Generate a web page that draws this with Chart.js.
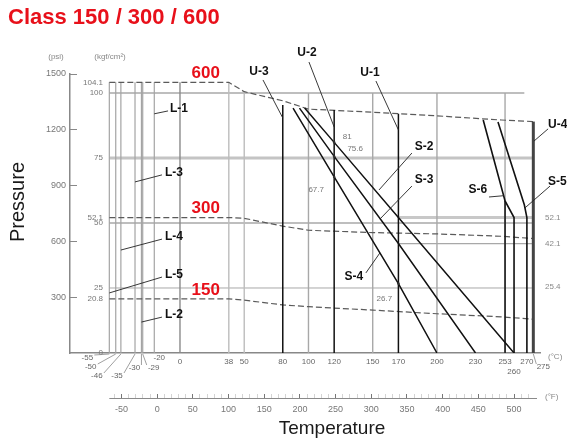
<!DOCTYPE html>
<html><head><meta charset="utf-8">
<script src="https://cdn.jsdelivr.net/npm/chart.js@4.4.1/dist/chart.umd.min.js"></script>
<style>html,body{margin:0;padding:0;background:#fff;}#wrap{width:567px;height:440px;}</style>
</head><body><div id="wrap"><canvas id="c" width="567" height="440"></canvas></div>
<script>
// ---------- DATA (temperature °C, pressure kgf/cm²) ----------
const classTemps = [-55, 38, 50, 80, 100, 150, 200, 250, 275];
const class600 = [104.1, 104.1, 100.5, 97.0, 93.8, 92.6, 91.2, 89.6, 89.0];
const class300 = [52.1, 52.1, 51.8, 48.8, 47.2, 46.3, 45.8, 44.9, 44.0];
const class150 = [20.8, 20.8, 20.3, 18.5, 17.8, 16.5, 15.1, 13.9, 13.0];
const classNames = ['600', '300', '150'];

const lowLimitTemps = [-55, -50, -46, -35, -30, -29, -20];
const lowLimitTop = 104.1;
const refTemps = [0, 38, 50, 100, 150, 200, 253];
const refTops = [104.1, 104.1, 100, 100, 100, 100, 100];

const upperTemps = [80, 120, 170, 253, 275];
const upperTops = [95.4, 93.5, 92.0, 58.5, 89.0];

const s4T = [88, 120, 170, 200],     s4P = [94.2, 67.7, 26.7, 0];
const s3T = [93, 120, 170, 230],     s3P = [94.2, 75.6, 42.1, 0];
const s2T = [97, 120, 170, 260],     s2P = [94.2, 81.0, 52.1, 0];
const s6T = [236, 253, 260, 260],    s6P = [89.6, 58.5, 52.1, 0];
const s5T = [247.5, 268, 270, 270],  s5P = [88.8, 57.0, 52.1, 0];

const gridLevels = [100, 75, 50, 25];
const gridLevelEnds = [268, 275, 275, 275];
const sideLevels = [52.1, 42.1];
const sideLevelStart = 170, sideLevelEnd = 275;

const noteTemps = [120, 120, 120, 170];
const notePress = [81, 75.6, 67.7, 26.7];

const kgfTicks = [0, 20.8, 25, 50, 52.1, 75, 100, 104.1];
const kgfRightTicks = [25.4, 42.1, 52.1];
const psiTicks = [300, 600, 900, 1200, 1500];
const celsiusTicks = [-55, -50, -46, -35, -30, -29, -20, 0, 38, 50, 80, 100, 120, 150, 170, 200, 230, 253, 260, 270, 275];
const fahrenheitLabels = [-50, 0, 50, 100, 150, 200, 250, 300, 350, 400, 450, 500];

// ---------- annotation layout (not data) ----------
const FONT = '"Liberation Sans", Arial, sans-serif';
const X_MIN = -85.6, X_MAX = 280.2, KGF_MAX = 107.3, PSI_MAX = 1500;
const crowded = {'-55': [-22, 358], '-50': [-25, 367], '-46': [-24, 376], '-35': [-18, 376], '-30': [-7, 368], '-29': [11, 368], '-20': [5, 358], '275': [10, 367]};
const seriesLabels = [
  {t: 'L-1', at: [-0.8, 93.8], ld: [[-9.3, 93.1], [-20, 92.0]]},
  {t: 'L-3', at: [-4.7, 69.2], ld: [[-14, 68.5], [-35, 65.8]]},
  {t: 'L-4', at: [-4.7, 44.6], ld: [[-14, 43.8], [-46, 39.6]]},
  {t: 'L-5', at: [-4.7, 30.0], ld: [[-14, 29.2], [-55, 23.1]]},
  {t: 'L-2', at: [-4.7, 14.6], ld: [[-14, 13.8], [-30, 11.9]]},
  {t: 'U-3', at: [61.5, 108.1], ld: [[64.6, 105], [80, 90.4]]},
  {t: 'U-2', at: [98.8, 115.4], ld: [[100.4, 111.9], [120, 86.9]]},
  {t: 'U-1', at: [147.9, 107.7], ld: [[152.5, 104.6], [170, 85.8]]},
  {t: 'U-4', at: [286.4, 87.7], left: true, ld: [[286.5, 86.2], [275.5, 81.5]]},
  {t: 'S-2', at: [189.9, 79.2], ld: [[180.5, 76.9], [154.9, 62.7]]},
  {t: 'S-3', at: [189.9, 66.5], ld: [[180.5, 64.2], [155.6, 51.5]]},
  {t: 'S-4', at: [135.4, 29.2], ld: [[144.7, 30.8], [155.6, 38.5]]},
  {t: 'S-6', at: [231.9, 62.7], ld: [[240.5, 60.0], [252, 60.5]]},
  {t: 'S-5', at: [286.4, 65.8], left: true, ld: [[288, 64.2], [268.5, 55.8]]}
];
const noteOffsets = [[13, -6], [21, -8], [-18, 13], [-14, 15]];

// ---------- datasets ----------
const datasets = [];
function addLine(T, P, color, width, dash, order) {
  datasets.push({data: T.map((t, i) => ({x: t, y: P[i]})), borderColor: color, borderWidth: width,
    borderDash: dash || [], pointRadius: 0, pointHoverRadius: 0, fill: false, tension: 0, order: order});
}
gridLevels.forEach((lv, i) => addLine([lowLimitTemps[0], gridLevelEnds[i]], [lv, lv],
  lv === 75 ? '#c4c4c4' : '#a8a8a8', lv === 75 ? 3 : (lv === 25 ? 1 : 1.4), null, 6));
sideLevels.forEach((lv, i) => addLine([sideLevelStart, sideLevelEnd], [lv, lv], i === 0 ? '#c8c8c8' : '#a8a8a8', i === 0 ? 3 : 1.3, null, 6));
lowLimitTemps.forEach(t => addLine([t, t], [0, lowLimitTop], '#a4a4a4', 1.2, null, 5));
refTemps.forEach((t, i) => addLine([t, t], [0, refTops[i]], t === 0 ? '#8a8a8a' : (t === 38 || t === 50 ? '#bcbcbc' : '#a8a8a8'), 1.4, null, 5));
[class600, class300, class150].forEach(c => addLine(classTemps, c, '#5a5a5a', 1.2, [6, 3], 3));
upperTemps.forEach((t, i) => addLine([t, t], [0, upperTops[i]], t === 275 ? '#444' : '#111', t === 275 ? 3 : 1.5, null, 1));
addLine(s4T, s4P, '#111', 1.5, null, 0);
addLine(s3T, s3P, '#111', 1.5, null, 0);
addLine(s2T, s2P, '#111', 1.5, null, 0);
addLine(s6T, s6P, '#111', 1.6, null, 0);
addLine(s5T, s5P, '#111', 1.6, null, 0);

// ---------- annotation plugin ----------
const annot = {
  id: 'annot',
  afterDraw(chart) {
    const {ctx, chartArea: ca, scales} = chart;
    const X = v => scales.x.getPixelForValue(v);
    const Y = v => scales.y.getPixelForValue(v);
    const seg = (x1, y1, x2, y2) => { ctx.beginPath(); ctx.moveTo(x1, y1); ctx.lineTo(x2, y2); ctx.stroke(); };
    ctx.save();
    ctx.fillStyle = '#888'; ctx.font = `8px ${FONT}`; ctx.textBaseline = 'middle'; ctx.textAlign = 'center';
    ctx.fillText('(psi)', ca.left - 14, ca.top - 17);
    ctx.fillText('(kgf/cm²)', ca.left + 40, ca.top - 17);
    ctx.textAlign = 'left';
    ctx.fillText('(°C)', ca.right + 8, scales.x.top + 4);
    ctx.fillText('(°F)', ca.right + 5, scales.xF.top - 1);
    ctx.strokeStyle = '#8a8a8a'; ctx.lineWidth = 1;
    seg(X(lowLimitTemps[0]), scales.xF.top + 0.5, ca.right - 3, scales.xF.top + 0.5);
    ctx.fillStyle = '#666'; ctx.font = `8px ${FONT}`; ctx.textAlign = 'center'; ctx.strokeStyle = '#888'; ctx.lineWidth = 0.8;
    Object.keys(crowded).forEach(k => {
      const v = Number(k), [dx, yy] = crowded[k], px = X(v), cx = px + dx;
      ctx.fillText(k, cx, yy);
      if (Math.abs(dx) > 6) {
        const sx = dx < 0 ? cx + 7 : cx - 7;
        seg(sx, yy - 3, px, scales.x.top + 1);
      }
    });
    ctx.fillStyle = '#1a1a1a';
    ctx.font = `20px ${FONT}`;
    ctx.save(); ctx.translate(18, 202); ctx.rotate(-Math.PI / 2); ctx.textAlign = 'center'; ctx.fillText('Pressure', 0, 0); ctx.restore();
    ctx.font = `19px ${FONT}`; ctx.textAlign = 'center';
    ctx.fillText('Temperature', 332, 429);
    ctx.fillStyle = '#e8101a'; ctx.font = `bold 17px ${FONT}`; ctx.textAlign = 'center';
    [class600, class300, class150].forEach((c, i) => ctx.fillText(classNames[i], X(20), Y(c[0]) - 9));
    ctx.fillStyle = '#111'; ctx.strokeStyle = '#222'; ctx.lineWidth = 0.9; ctx.font = `bold 12px ${FONT}`;
    seriesLabels.forEach(s => {
      ctx.textAlign = s.left ? 'left' : 'center';
      ctx.fillText(s.t, X(s.at[0]), Y(s.at[1]));
      seg(X(s.ld[0][0]), Y(s.ld[0][1]), X(s.ld[1][0]), Y(s.ld[1][1]));
    });
    ctx.font = `8px ${FONT}`; ctx.textAlign = 'center';
    noteTemps.forEach((t, i) => {
      const px = X(t), py = Y(notePress[i]);
      ctx.fillStyle = '#777';
      ctx.fillText(String(notePress[i]), px + noteOffsets[i][0], py + noteOffsets[i][1]);
      ctx.beginPath(); ctx.fillStyle = '#333'; ctx.arc(px, py, 1.3, 0, Math.PI * 2); ctx.fill();
    });
    ctx.restore();
  }
};

new Chart(document.getElementById('c'), {
  type: 'line',
  data: {datasets},
  options: {
    responsive: false, animation: false, events: [],
    layout: {padding: {left: 8, right: 0, top: 0, bottom: 0}},
    plugins: {
      legend: {display: false}, tooltip: {enabled: false},
      title: {display: true, text: 'Class 150 / 300 / 600', align: 'start', color: '#e8101a',
        font: {family: FONT, size: 22, weight: 'bold', lineHeight: 1.2}, padding: {top: 4.8, bottom: 42.8}}
    },
    scales: {
      x: {type: 'linear', position: 'bottom', weight: 0, min: X_MIN, max: X_MAX,
        afterBuildTicks: s => { s.ticks = celsiusTicks.map(v => ({value: v})); },
        afterFit: s => { s.height = 45; },
        grid: {display: false, drawTicks: false},
        border: {display: true, color: '#888', width: 1.5},
        ticks: {autoSkip: false, maxRotation: 0, minRotation: 0, padding: 4, color: '#666', font: {family: FONT, size: 8},
          callback: v => (crowded[String(v)] ? '' : (v === 260 ? ['', '260'] : String(v)))}
      },
      xF: {type: 'linear', position: 'bottom', weight: 1, min: X_MIN * 1.8 + 32, max: X_MAX * 1.8 + 32,
        afterBuildTicks: s => { const t = []; for (let v = -60; v <= 520; v += 10) t.push({value: v}); s.ticks = t; },
        afterFit: s => { s.height = 42; },
        grid: {display: true, drawOnChartArea: false, drawTicks: true, tickLength: -4,
          tickColor: c => (c.tick && fahrenheitLabels.includes(c.tick.value)) ? '#777' : '#d4d4d4', tickWidth: 1},
        border: {display: false},
        ticks: {autoSkip: false, maxRotation: 0, minRotation: 0, padding: 10, color: '#777', font: {family: FONT, size: 9},
          callback: v => (fahrenheitLabels.includes(v) ? String(v) : '')}
      },
      y: {type: 'linear', position: 'left', weight: 0, min: 0, max: KGF_MAX,
        afterBuildTicks: s => { s.ticks = kgfTicks.map(v => ({value: v})); },
        afterFit: s => { s.width = 0; },
        grid: {display: false, drawTicks: false}, border: {display: false},
        ticks: {mirror: true, crossAlign: 'far', padding: 13, autoSkip: false, color: '#777', font: {family: FONT, size: 8},
          callback: v => String(v)}
      },
      yPsi: {type: 'linear', position: 'left', weight: 1, min: 0, max: PSI_MAX,
        afterBuildTicks: s => { s.ticks = psiTicks.map(v => ({value: v})); },
        afterFit: s => { s.width = 62; },
        grid: {display: true, drawOnChartArea: false, drawTicks: true, tickLength: -7, color: '#888'},
        border: {display: true, color: '#888', width: 1.5},
        ticks: {padding: 11, autoSkip: false, color: '#777', font: {family: FONT, size: 9}, callback: v => String(v)}
      },
      yR: {type: 'linear', position: 'right', min: 0, max: KGF_MAX,
        afterBuildTicks: s => { s.ticks = kgfRightTicks.map(v => ({value: v})); },
        afterFit: s => { s.width = 27; },
        grid: {display: false, drawTicks: false}, border: {display: false},
        ticks: {padding: 5, autoSkip: false, color: '#888', font: {family: FONT, size: 8}, callback: v => String(v)}
      }
    }
  },
  plugins: [annot]
});
</script></body></html>
